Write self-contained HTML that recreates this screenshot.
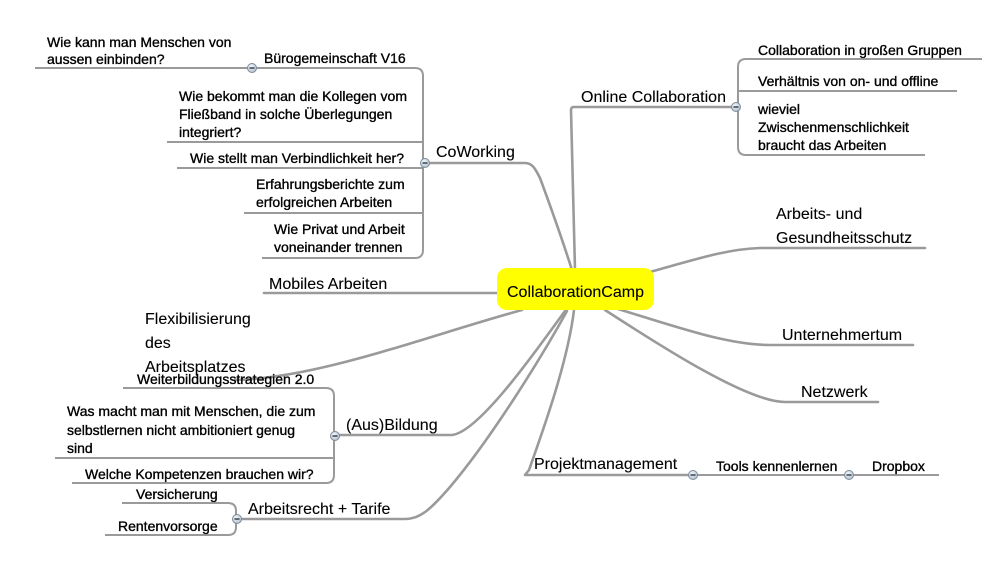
<!DOCTYPE html>
<html>
<head>
<meta charset="utf-8">
<style>
  html, body { margin: 0; padding: 0; background: #ffffff; }
  body { width: 990px; height: 564px; overflow: hidden; }
  svg { display: block; }
  .t16 { font-family: "Liberation Sans", Arial, sans-serif; font-size: 16px; fill: #000; stroke: #000; stroke-width: 0.1; }
  .t14 { font-family: "Liberation Sans", Arial, sans-serif; font-size: 14px; fill: #000; stroke: #000; stroke-width: 0.35; }
  .main { fill: none; stroke: #9a9a9a; stroke-width: 2.6; stroke-linecap: round; stroke-linejoin: round; }
  .sub { fill: none; stroke: #9a9a9a; stroke-width: 2; stroke-linecap: butt; stroke-linejoin: round; }
</style>
</head>
<body>
<svg width="990" height="564" viewBox="0 0 990 564" xmlns="http://www.w3.org/2000/svg">
  <defs>
    <radialGradient id="btn" cx="40%" cy="35%" r="70%">
      <stop offset="0" stop-color="#f4f7fa"/>
      <stop offset="1" stop-color="#aebccb"/>
    </radialGradient>
  </defs>
  <rect x="0" y="0" width="990" height="564" fill="#ffffff"/>

  <!-- ===== Main branches ===== -->
  <path class="main" d="M425 163 H525 C532 163 535 168 540 178 C550 205 564 245 572 270"/>
  <path class="main" d="M736 107 H574 Q571 107 571 110 L575 270"/>
  <path class="main" d="M650 272 C700 258 728 249 760 248 H925"/>
  <path class="main" d="M618 309 C680 328 728 345 770 345 H913"/>
  <path class="main" d="M605 310 C647 337 745 402 785 402 H878"/>
  <path class="main" d="M574 310 C568 360 545 425 529 470 L525 475 H693"/>
  <path class="main" d="M264 293 H500"/>
  <path class="main" d="M522 310 C430 335 320 378 235 380"/>
  <path class="main" d="M335 435 H452 C480 432 540 345 565 311"/>
  <path class="main" d="M237 519 H405 C420 519 430 510 450 487 C490 440 540 360 567 311"/>

  <!-- ===== Sub branches ===== -->
  <path class="sub" d="M35 68 H415 Q423 68 423 76 V250 Q423 258 415 258 H262"/>
  <path class="sub" d="M423 142 H167"/>
  <path class="sub" d="M423 168 H177"/>
  <path class="sub" d="M423 213 H244"/>

  <path class="sub" d="M982 59 H746 Q738 59 738 67 V147 Q738 155 746 155 H925"/>
  <path class="sub" d="M738 91 H957"/>

  <path class="sub" d="M123 388 H326 Q334 388 334 396 V475 Q334 483 326 483 H72"/>
  <path class="sub" d="M334 458 H55"/>

  <path class="sub" d="M122 503 H228 Q236 503 236 511 V527 Q236 535 228 535 H105"/>

  <path class="sub" d="M693 475 H939"/>

  <!-- ===== Center node ===== -->
  <rect x="497" y="268" width="157" height="42" rx="10" ry="10" fill="#ffff00"/>
  <text class="t16" x="507" y="297">CollaborationCamp</text>

  <!-- ===== Main topic labels ===== -->
  <text class="t16" x="436" y="157">CoWorking</text>
  <text class="t16" x="581" y="102">Online Collaboration</text>
  <text class="t16" x="776" y="219">Arbeits- und</text>
  <text class="t16" x="776" y="243">Gesundheitsschutz</text>
  <text class="t16" x="782" y="340">Unternehmertum</text>
  <text class="t16" x="801" y="397">Netzwerk</text>
  <text class="t16" x="534" y="469">Projektmanagement</text>
  <text class="t16" x="269" y="289">Mobiles Arbeiten</text>
  <text class="t16" x="145" y="324">Flexibilisierung</text>
  <text class="t16" x="145" y="348">des</text>
  <text class="t16" x="145" y="372">Arbeitsplatzes</text>
  <text class="t16" x="346" y="430">(Aus)Bildung</text>
  <text class="t16" x="248" y="514">Arbeitsrecht + Tarife</text>

  <!-- ===== Sub topic labels ===== -->
  <text class="t14" x="47" y="47">Wie kann man Menschen von</text>
  <text class="t14" x="47" y="64">aussen einbinden?</text>
  <text class="t14" x="264" y="63">Bürogemeinschaft V16</text>
  <text class="t14" x="179" y="101">Wie bekommt man die Kollegen vom</text>
  <text class="t14" x="179" y="119">Fließband in solche Überlegungen</text>
  <text class="t14" x="179" y="137">integriert?</text>
  <text class="t14" x="190" y="163">Wie stellt man Verbindlichkeit her?</text>
  <text class="t14" x="256" y="189">Erfahrungsberichte zum</text>
  <text class="t14" x="256" y="207">erfolgreichen Arbeiten</text>
  <text class="t14" x="274" y="234">Wie Privat und Arbeit</text>
  <text class="t14" x="274" y="252">voneinander trennen</text>

  <text class="t14" x="758" y="55">Collaboration in großen Gruppen</text>
  <text class="t14" x="758" y="86">Verhältnis von on- und offline</text>
  <text class="t14" x="758" y="114">wieviel</text>
  <text class="t14" x="758" y="132">Zwischenmenschlichkeit</text>
  <text class="t14" x="758" y="150">braucht das Arbeiten</text>

  <text class="t14" x="137" y="384">Weiterbildungsstrategien 2.0</text>
  <text class="t14" x="67" y="416">Was macht man mit Menschen, die zum</text>
  <text class="t14" x="67" y="435">selbstlernen nicht ambitioniert genug</text>
  <text class="t14" x="67" y="453">sind</text>
  <text class="t14" x="85" y="479">Welche Kompetenzen brauchen wir?</text>

  <text class="t14" x="136" y="499">Versicherung</text>
  <text class="t14" x="118" y="531">Rentenvorsorge</text>

  <text class="t14" x="716" y="471">Tools kennenlernen</text>
  <text class="t14" x="872" y="471">Dropbox</text>

  <!-- ===== Collapse buttons ===== -->
  <g stroke="#7d8c9c" stroke-width="1" fill="url(#btn)">
    <circle cx="252" cy="68" r="4.5"/>
    <circle cx="425" cy="163" r="4.5"/>
    <circle cx="736" cy="107" r="4.5"/>
    <circle cx="335" cy="436" r="4.5"/>
    <circle cx="237" cy="519" r="4.5"/>
    <circle cx="693" cy="475" r="4.5"/>
    <circle cx="849" cy="475" r="4.5"/>
  </g>
  <g stroke="#1e2a36" stroke-width="1.3">
    <line x1="249.5" y1="68" x2="254.5" y2="68"/>
    <line x1="422.5" y1="163" x2="427.5" y2="163"/>
    <line x1="733.5" y1="107" x2="738.5" y2="107"/>
    <line x1="332.5" y1="436" x2="337.5" y2="436"/>
    <line x1="234.5" y1="519" x2="239.5" y2="519"/>
    <line x1="690.5" y1="475" x2="695.5" y2="475"/>
    <line x1="846.5" y1="475" x2="851.5" y2="475"/>
  </g>
</svg>
</body>
</html>
